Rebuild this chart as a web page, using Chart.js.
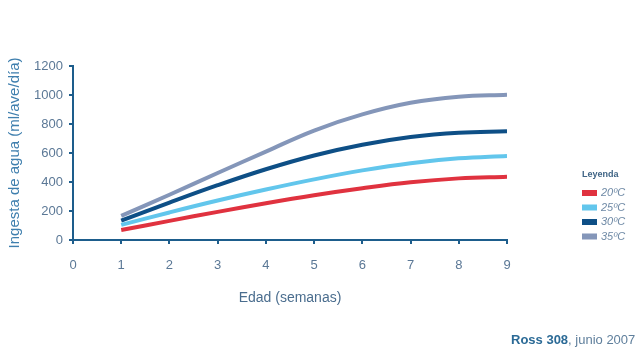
<!DOCTYPE html>
<html><head><meta charset="utf-8">
<script src="https://cdn.jsdelivr.net/npm/chart.js@4"></script>
<style>html,body{margin:0;padding:0;background:#fff;}#wrap{width:638px;height:362px;position:relative;}</style>
</head><body><div id="wrap"><canvas id="c" width="638" height="362"></canvas></div>
<script>
const weeks = [1, 2, 3, 4, 5, 6, 7, 8, 9];
const t20 = [69, 132, 194, 254, 309, 357, 398, 425, 437];
const t25 = [104, 190, 272, 348, 418, 480, 530, 563, 580];
const t30 = [133, 258, 378, 488, 583, 657, 710, 740, 750];
const t35 = [166, 312, 462, 610, 755, 866, 946, 988, 1002];
const seriesNames = ['20ºC', '25ºC', '30ºC', '35ºC'];
const seriesColors = ['#e0323f', '#62c6ec', '#0e4f86', '#8496b9'];
const xTicks = [0, 1, 2, 3, 4, 5, 6, 7, 8, 9];
const yTicks = [0, 200, 400, 600, 800, 1000, 1200];

const FONT = "'Liberation Sans', Arial, sans-serif";
const axisColor = '#1d5d8c';
const tickColor = '#5b7896';

const series = [t20, t25, t30, t35];
const datasets = series.map((vals, i) => ({
  label: seriesNames[i],
  data: weeks.map((w, j) => ({x: w, y: vals[j]})),
  borderColor: seriesColors[i],
  backgroundColor: seriesColors[i],
  borderWidth: 4,
  pointRadius: 0,
  tension: 0.4,
  fill: false
}));

const legendPlugin = {
  id: 'customLegend',
  afterDraw(chart) {
    const ctx = chart.ctx;
    ctx.save();
    ctx.textBaseline = 'middle';
    ctx.fillStyle = '#3f6485';
    ctx.font = 'bold 9px ' + FONT;
    ctx.fillText('Leyenda', 582, 175);
    chart.data.datasets.forEach((ds, i) => {
      const y = 193 + i * 14.5;
      ctx.fillStyle = ds.borderColor;
      ctx.fillRect(582, y - 3, 15, 6);
      ctx.fillStyle = '#6f8aa6';
      ctx.font = 'italic 11px ' + FONT;
      ctx.fillText(ds.label, 601, y);
    });
    ctx.textBaseline = 'alphabetic';
    ctx.font = 'bold 13px ' + FONT;
    ctx.fillStyle = '#2b6a96';
    const a = 'Ross 308';
    ctx.fillText(a, 511, 344);
    const w = ctx.measureText(a).width;
    ctx.font = '13px ' + FONT;
    ctx.fillStyle = '#5f7f9c';
    ctx.fillText(', junio 2007', 511 + w, 344);
    ctx.restore();
  }
};

new Chart(document.getElementById('c'), {
  type: 'line',
  data: { datasets },
  options: {
    responsive: false,
    animation: false,
    layout: { padding: { left: 0, right: 131, top: 66, bottom: 0 } },
    plugins: { legend: { display: false }, tooltip: { enabled: false } },
    scales: {
      x: {
        type: 'linear', min: 0, max: 9,
        afterBuildTicks: (s) => { s.ticks = xTicks.map(v => ({value: v})); },
        afterFit: (s) => { s.height = 122; },
        grid: { drawOnChartArea: false, color: axisColor, tickLength: 4, lineWidth: 2 },
        border: { color: axisColor, width: 2 },
        ticks: { color: tickColor, font: { family: FONT, size: 13 }, padding: 14, callback: (v) => String(v) },
        title: { display: true, text: 'Edad (semanas)', color: '#4a6d8e', font: { family: FONT, size: 14 }, padding: { top: 14, bottom: 55 } }
      },
      y: {
        min: 0, max: 1200,
        afterBuildTicks: (s) => { s.ticks = yTicks.map(v => ({value: v})); },
        afterFit: (s) => { s.width = 73; },
        grid: { drawOnChartArea: false, color: axisColor, tickLength: 4, lineWidth: 2 },
        border: { color: axisColor, width: 2 },
        ticks: { color: tickColor, font: { family: FONT, size: 13 }, padding: 6, callback: (v) => String(v) },
        title: { display: true, text: 'Ingesta de agua (ml/ave/día)', color: '#3f7fae', font: { family: FONT, size: 15 }, padding: { top: 6, bottom: 0 } }
      }
    }
  },
  plugins: [legendPlugin]
});
</script></body></html>
